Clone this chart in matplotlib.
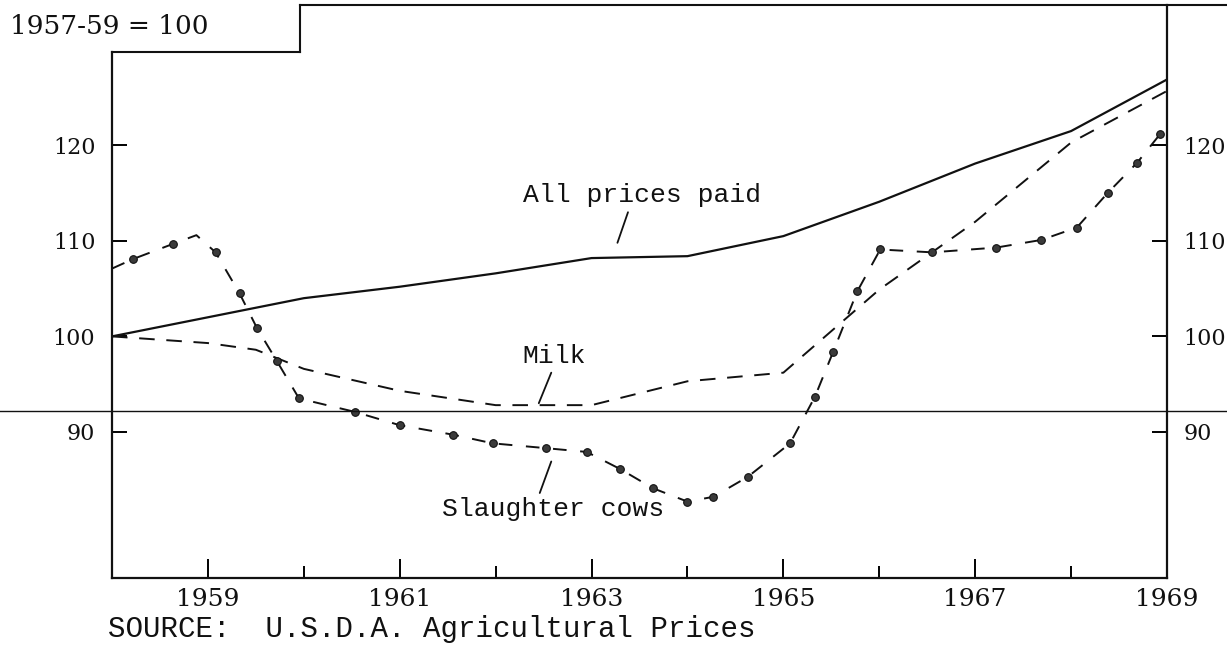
#!/usr/bin/env python

import numpy as np
import matplotlib
matplotlib.use("Agg")
import matplotlib.pyplot as plt
from matplotlib.lines import Line2D

# index numbers, 1957-59 = 100
years = [1958, 1959, 1960, 1961, 1962, 1963, 1964, 1965, 1966, 1967, 1968, 1969]
prices_paid = [100.0, 102.0, 104.0, 105.2, 106.6, 108.2, 108.4, 110.5, 114.1, 118.1, 121.5, 126.9]

milk_years = [1958, 1959, 1959.5, 1960, 1961, 1962, 1963, 1964, 1965, 1966, 1967, 1968, 1969]
milk = [100.0, 99.3, 98.6, 96.6, 94.3, 92.8, 92.8, 95.3, 96.2, 104.9, 112.0, 120.3, 125.7]

cow_years = [1958.0, 1958.22, 1958.64, 1958.88, 1959.08, 1959.33, 1959.51, 1959.72, 1959.95,
             1960.53, 1961.0, 1961.56, 1961.97, 1962.52, 1962.95, 1963.3, 1963.64, 1964.0,
             1964.27, 1964.63, 1965.07, 1965.33, 1965.52, 1965.77, 1966.01, 1966.55, 1967.22,
             1967.69, 1968.06, 1968.38, 1968.69, 1968.93]
cows = [107.1, 108.1, 109.7, 110.6, 108.8, 104.5, 100.9, 97.4, 93.5,
        92.1, 90.7, 89.7, 88.8, 88.3, 87.9, 86.1, 84.1, 82.7,
        83.2, 85.3, 88.8, 93.7, 98.4, 104.7, 109.1, 108.8, 109.3,
        110.1, 111.4, 115.0, 118.2, 121.2]
# first point and the peak are only corners of the drawn line, no dot there
cow_dot = [False, True, True, False] + [True] * 28

xtick_years = [1959, 1961, 1963, 1965, 1967, 1969]
minor_years = [1958, 1960, 1962, 1964, 1966, 1968]
yticks = [90, 100, 110, 120]

serif = "DejaVu Serif"
mono = "Liberation Mono"
ink = "#111111"

fig = plt.figure(figsize=(12.27, 6.54), dpi=100)
ax = fig.add_axes([112 / 1227, 1 - 578 / 654, 1055 / 1227, 573 / 654])

ax.plot(years, prices_paid, color=ink, lw=1.6, solid_capstyle="round")
ax.plot(milk_years, milk, color=ink, lw=1.4, dashes=(8, 6))
ax.plot(cow_years, cows, color=ink, lw=1.4, dashes=(7, 7))
cy = np.array(cow_years)[np.array(cow_dot)]
cv = np.array(cows)[np.array(cow_dot)]
ax.plot(cy, cv, "o", ms=5.5, mfc="#3a3a3a", mec=ink, mew=0.8, ls="none")

ax.set_xlim(1958, 1969)
ax.set_ylim(74.7, 134.7)

ax.set_xticks(xtick_years)
ax.set_xticklabels([str(y) for y in xtick_years], fontfamily=serif, fontsize=18, color=ink)
ax.set_xticks(minor_years, minor=True)
ax.tick_params(axis="x", which="major", direction="in", length=14, width=1.4, pad=7.5)
ax.tick_params(axis="x", which="minor", direction="in", length=9, width=1.4)

ax.set_yticks(yticks)
ax.set_yticklabels([str(v) for v in yticks], fontfamily=serif, fontsize=16, color=ink)
ax.tick_params(axis="y", direction="in", length=11, width=1.4, pad=12,
               left=True, right=True, labelleft=True, labelright=True)

for s in ["left", "right", "bottom"]:
    ax.spines[s].set_linewidth(1.6)
    ax.spines[s].set_color(ink)
ax.spines["top"].set_visible(False)

# the odd frame of the original: small box for the base label, top rule to the right
box_x = 0.178
box_y = 0.918
ax.spines["left"].set_bounds(74.7, 74.7 + box_y * 60)
frame = dict(color=ink, lw=1.5, transform=ax.transAxes, clip_on=False)
ax.add_line(Line2D([0, box_x], [box_y, box_y], **frame))
ax.add_line(Line2D([box_x, box_x], [box_y, 1.0], **frame))
ax.add_line(Line2D([box_x, 1.06], [1.0, 1.0], **frame))

# stray rule across the scanned page
fig.add_artist(Line2D([0, 1], [1 - 411 / 654, 1 - 411 / 654], color=ink, lw=1.0))

fig.text(10 / 1227, 1 - 26 / 654, "1957-59 = 100", fontfamily=serif, fontsize=19,
         color=ink, ha="left", va="center")

lab = dict(fontfamily=mono, fontsize=19, color=ink, ha="center", va="center")
ptr = dict(arrowstyle="-", lw=1.3, color=ink, shrinkA=0, shrinkB=0)

ax.text(1963.53, 114.8, "All prices paid", **lab)
ax.annotate("", xy=(1963.27, 109.8), xytext=(1963.38, 113.0), arrowprops=ptr)

ax.text(1962.61, 97.9, "Milk", **lab)
ax.annotate("", xy=(1962.45, 93.0), xytext=(1962.58, 96.2), arrowprops=ptr)

ax.text(1962.60, 81.9, "Slaughter cows", **lab)
ax.annotate("", xy=(1962.58, 86.9), xytext=(1962.46, 83.6), arrowprops=ptr)

fig.text(108 / 1227, 1 - 637 / 654, "SOURCE:  U.S.D.A. Agricultural Prices",
         fontfamily=mono, fontsize=21, color=ink, ha="left", va="baseline")

plt.savefig("out.png", dpi=100)
plt.close(fig)
